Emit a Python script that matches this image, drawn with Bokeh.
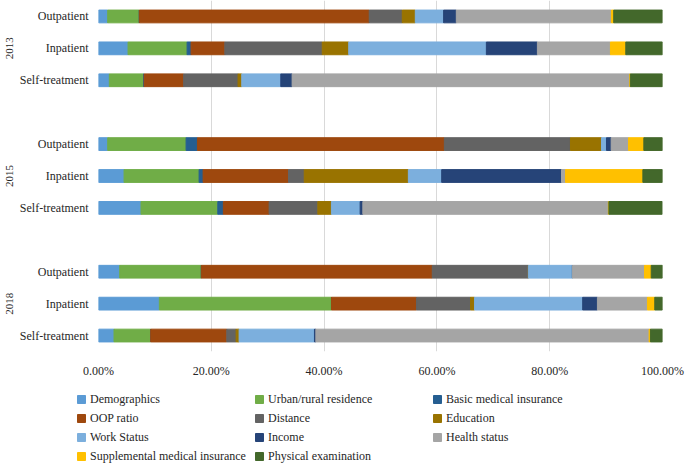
from bokeh.plotting import figure
from bokeh.layouts import column
from bokeh.models import ColumnDataSource, FactorRange, FixedTicker, PrintfTickFormatter, Legend, LegendItem
from bokeh.embed import file_html
from bokeh.resources import INLINE

years = ["2013", "2015", "2018"]
care_types = ["Outpatient", "Inpatient", "Self-treatment"]

series_names = ["Demographics", "Urban/rural residence", "Basic medical insurance",
                "OOP ratio", "Distance", "Education", "Work Status", "Income",
                "Health status", "Supplemental medical insurance", "Physical examination"]
series_colors = ["#5B9BD5", "#70AD47", "#255E91", "#9E480E", "#636363", "#997300",
                 "#7CAFDD", "#264478", "#A5A5A5", "#FFC000", "#43682B"]

# Shares (%) per row, row order: 2013 Out/In/Self, 2015 Out/In/Self, 2018 Out/In/Self
demographics = [1.63, 5.24, 1.92, 1.63, 4.53, 7.54, 3.76, 10.79, 2.75]
urban_rural = [5.61, 10.47, 6.07, 13.90, 13.31, 13.61, 14.48, 30.52, 6.51]
basic_insurance = [0.00, 0.71, 0.10, 2.01, 0.71, 0.99, 0.00, 0.00, 0.00]
oop_ratio = [40.76, 5.98, 7.01, 43.78, 15.14, 8.11, 40.94, 15.08, 13.49]
distance = [5.86, 17.27, 9.64, 22.36, 2.79, 8.64, 17.04, 9.58, 1.65]
education = [2.31, 4.70, 0.66, 5.50, 18.46, 2.41, 0.00, 0.71, 0.53]
work_status = [5.02, 24.40, 6.92, 0.89, 5.91, 5.09, 7.81, 19.17, 13.36]
income = [2.25, 9.05, 2.01, 0.83, 21.24, 0.48, 0.00, 2.61, 0.25]
health_status = [27.50, 12.95, 59.87, 3.07, 0.71, 43.53, 12.78, 8.87, 59.09]
supplemental = [0.41, 2.72, 0.10, 2.72, 13.72, 0.10, 1.19, 1.30, 0.23]
physical_exam = [8.64, 6.51, 5.80, 3.32, 3.50, 9.46, 2.01, 1.37, 2.13]

x_ticks = [0, 20, 40, 60, 80, 100]

rows = [(y, t) for y in years for t in care_types]
keys = ["s%d" % i for i in range(len(series_names))]
series_values = [demographics, urban_rural, basic_insurance, oop_ratio, distance, education,
                 work_status, income, health_status, supplemental, physical_exam]
data = {"y": rows}
for k, v in zip(keys, series_values):
    data[k] = v
source = ColumnDataSource(data)

FONT = "Liberation Serif"
TEXT = "#262626"

y_range = FactorRange(*list(reversed(rows)), group_padding=1.0, range_padding=0)

# ---- main chart ----
p = figure(width=685, height=380, y_range=y_range, x_range=(0, 100),
           output_backend="svg", toolbar_location=None,
           min_border_left=98, min_border_right=23, min_border_top=0, min_border_bottom=26)
p.frame_align = False

p.hbar_stack(keys, y="y", height=0.4, color=series_colors, source=source)

p.outline_line_color = None
p.background_fill_color = "white"
p.border_fill_color = "white"

p.ygrid.grid_line_color = None
p.xgrid.grid_line_color = "#D9D9D9"
p.xgrid.grid_line_width = 1
p.xgrid.ticker = FixedTicker(ticks=x_ticks)

xa = p.xaxis[0]
xa.ticker = FixedTicker(ticks=x_ticks)
xa.formatter = PrintfTickFormatter(format="%.2f%%")
xa.axis_line_color = None
xa.major_tick_line_color = None
xa.minor_tick_line_color = None
xa.major_label_standoff = 6
xa.major_label_text_font = FONT
xa.major_label_text_font_size = "12px"
xa.major_label_text_color = TEXT

ya = p.yaxis[0]
ya.axis_line_color = None
ya.major_tick_line_color = None
ya.minor_tick_line_color = None
ya.major_label_standoff = 4
ya.major_label_text_font = FONT
ya.major_label_text_font_size = "12px"
ya.major_label_text_color = TEXT
ya.group_text_font = FONT
ya.group_text_font_size = "11px"
ya.group_text_font_style = "normal"
ya.group_text_color = TEXT
ya.separator_line_color = None

# ---- legend strip (hidden copies of the stack, only their legend swatches show) ----
pl = figure(width=685, height=84, y_range=FactorRange(*list(reversed(rows))), x_range=(0, 100),
            output_backend="svg", toolbar_location=None,
            x_axis_location=None, y_axis_location=None,
            min_border_left=0, min_border_right=0, min_border_top=0, min_border_bottom=0)
pl.frame_align = False
pl.outline_line_color = None
pl.grid.visible = False
legend_renderers = pl.hbar_stack(keys, y="y", height=0.4, color=series_colors, source=source)
for r in legend_renderers:
    r.visible = False

items = [LegendItem(label=n, renderers=[r]) for n, r in zip(series_names, legend_renderers)]
lg = Legend(items=items)
lg.orientation = "horizontal"
lg.ncols = 3
lg.location = (76, 0)
lg.glyph_width = 10
lg.glyph_height = 10
lg.label_height = 16
lg.label_width = 161
lg.label_standoff = 4
lg.spacing = 3
lg.padding = 0
lg.margin = 0
lg.border_line_color = None
lg.background_fill_alpha = 0
lg.inactive_fill_alpha = 0
lg.label_text_font = FONT
lg.label_text_font_size = "12px"
lg.label_text_color = TEXT
pl.add_layout(lg, "center")

layout = column(p, pl, spacing=0)
open("out.html", "w").write(file_html(layout, INLINE))
